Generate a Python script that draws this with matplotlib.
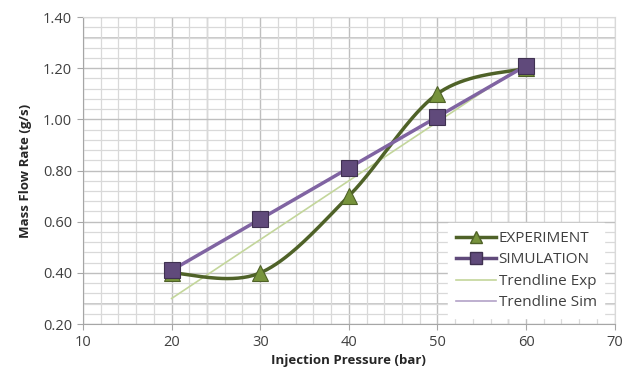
import numpy as np
import matplotlib
matplotlib.use("Agg")
import matplotlib.pyplot as plt
from matplotlib.ticker import MultipleLocator, FormatStrFormatter
from matplotlib.lines import Line2D

pressure = [20, 30, 40, 50, 60]
experiment = [0.40, 0.40, 0.70, 1.10, 1.20]
simulation = [0.41, 0.61, 0.81, 1.01, 1.21]

plt.rcParams['font.family'] = ['Open Sans', 'DejaVu Sans']


def smooth(x, y, n=40):
    # Excel-like smoothed line (Catmull-Rom style Bezier)
    x = np.asarray(x, float)
    y = np.asarray(y, float)
    P = np.column_stack([x, y])
    out = []
    for i in range(len(P) - 1):
        p0 = P[i - 1] if i > 0 else P[i]
        p1 = P[i]
        p2 = P[i + 1]
        p3 = P[i + 2] if i + 2 < len(P) else P[i + 1]
        c1 = p1 + (p2 - p0) / 6.0
        c2 = p2 - (p3 - p1) / 6.0
        t = np.linspace(0, 1, n)[:, None]
        seg = ((1 - t) ** 3) * p1 + 3 * ((1 - t) ** 2) * t * c1 + 3 * (1 - t) * t ** 2 * c2 + t ** 3 * p2
        out.append(seg if i == 0 else seg[1:])
    s = np.vstack(out)
    return s[:, 0], s[:, 1]


fig = plt.figure(figsize=(6.24, 3.79), dpi=100)
ax = fig.add_axes([0.133, 0.145, 0.852, 0.81])

ax.set_xlim(10, 70)
ax.set_ylim(0.2, 1.4)
ax.xaxis.set_major_locator(MultipleLocator(10))
ax.yaxis.set_major_locator(MultipleLocator(0.2))
ax.xaxis.set_minor_locator(MultipleLocator(2))
ax.yaxis.set_minor_locator(MultipleLocator(0.04))
ax.yaxis.set_major_formatter(FormatStrFormatter('%.2f'))

ax.grid(which='minor', color='#d9d9d9', lw=0.9)
ax.grid(which='major', color='#bfbfbf', lw=1.0)
for yv in (0.28, 1.32):
    ax.axhline(yv, color='#bfbfbf', lw=1.2, zorder=0.5)
for xv in (24, 58):
    ax.axvline(xv, color='#bfbfbf', lw=1.0, zorder=0.5)
ax.set_axisbelow(True)

for s in ax.spines.values():
    s.set_color('#d9d9d9')
ax.spines['left'].set_color('#a6a6a6')
ax.spines['bottom'].set_color('#a6a6a6')
ax.tick_params(which='minor', length=0)
ax.tick_params(which='major', length=4, color='#a6a6a6', labelsize=10.5,
               labelcolor='#404040', pad=4)

# trendlines
xs = np.array([pressure[0], pressure[-1]], float)
ce = np.polyfit(pressure, experiment, 1)
cs = np.polyfit(pressure, simulation, 1)
ax.plot(xs, np.polyval(ce, xs), color='#c3d69b', lw=1.2, zorder=3)
ax.plot(xs, np.polyval(cs, xs), color='#b3a2c7', lw=1.2, zorder=3)

# experiment
sx, sy = smooth(pressure, experiment)
ax.plot(sx, sy, color='#4f6228', lw=2.5, zorder=4)
ax.plot(pressure, experiment, ls='none', marker='^', ms=12, mfc='#77933c',
        mec='#4f6228', mew=0.8, zorder=5)
# simulation
sx2, sy2 = smooth(pressure, simulation)
ax.plot(sx2, sy2, color='#8064a2', lw=2.5, zorder=4)
ax.plot(pressure, simulation, ls='none', marker='s', ms=11, mfc='#604a7b',
        mec='#3f3151', mew=0.8, zorder=6)

handles = [
    Line2D([], [], color='#4f6228', lw=2.5, marker='^', ms=9, mfc='#77933c', mec='#4f6228'),
    Line2D([], [], color='#604a7b', lw=2.5, marker='s', ms=8, mfc='#604a7b', mec='#3f3151'),
    Line2D([], [], color='#c3d69b', lw=1.2),
    Line2D([], [], color='#b3a2c7', lw=1.2),
]
labels = ['EXPERIMENT', 'SIMULATION', 'Trendline Exp', 'Trendline Sim']
leg = ax.legend(handles, labels, loc='lower right', bbox_to_anchor=(0.995, -0.005),
                frameon=True, fontsize=11, handlelength=2.6, handletextpad=0.2,
                labelspacing=0.42, borderpad=0.5, fancybox=False)
leg.get_frame().set_facecolor('white')
leg.get_frame().set_edgecolor('white')
leg.get_frame().set_alpha(1)
for t in leg.get_texts():
    t.set_color('#404040')

ax.set_xlabel('Injection Pressure (bar)', fontsize=9.5, fontweight='bold', color='#262626', labelpad=3)
ax.set_ylabel('Mass Flow Rate (g/s)', fontsize=9.5, fontweight='bold', color='#262626', labelpad=8)

fig.savefig('out.png', dpi=100)
